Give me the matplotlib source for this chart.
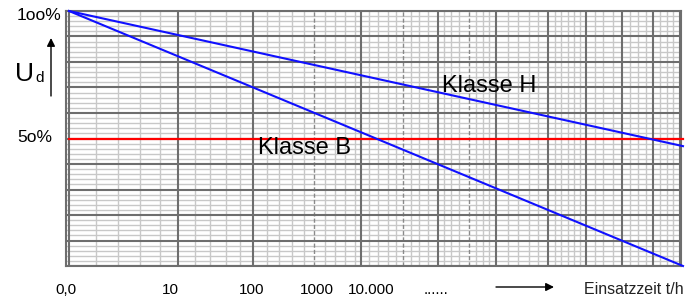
import matplotlib.pyplot as plt

plt.rcParams['font.family'] = ['Liberation Sans', 'DejaVu Sans']

# Data (x in units of the schematic time paper, 0 = left edge, 615 = right edge)
t_line = [0, 617]
u_klasse_b = [100, 0]
u_klasse_h = [100, 47]
u_limit = 50

tick_labels = ['0,0', '10', '100', '1000', '10.000', '......']
tick_pos = [-3, 102, 184, 249, 304, 369]

# graph paper grid
major_x = [0, 110, 185, 293, 371, 429, 481, 520, 556, 587, 614]
minor_x = [27, 49, 71, 91, 127, 142, 158, 172,
           199, 211, 224, 236, 257, 267, 277, 287,
           301, 311, 321, 329, 344, 352, 361,
           377, 384, 392, 409, 416, 422,
           441, 451, 462, 471,
           488, 494, 501, 507, 514,
           529, 537, 547, 564, 572, 580, 594, 601, 607]
dashed_x = [246, 336, 402]

fig = plt.figure(figsize=(6.96, 3.04), dpi=100)
ax = fig.add_axes([66 / 696, 1 - 266 / 304, 615 / 696, 255 / 304])
ax.set_xlim(0, 615)
ax.set_ylim(0, 100)

# minor grid
for y in range(0, 101, 2):
    if y % 10:
        ax.axhline(y, color='#c8c8c8', lw=1.0, zorder=1)
for x in minor_x:
    ax.axvline(x, color='#c8c8c8', lw=1.0, zorder=1)
for x in dashed_x:
    ax.axvline(x, color='#8a8a8a', lw=1.0, ls=(0, (3, 1.5)), zorder=2)
# major grid
for y in range(0, 101, 10):
    ax.axhline(y, color='#6e6e6e', lw=1.5, zorder=3)
for x in major_x:
    ax.axvline(x, color='#6e6e6e', lw=1.5, zorder=3)

for s in ax.spines.values():
    s.set_color('#6e6e6e')
    s.set_linewidth(1.5)

# curves
ax.plot([0, 617], [u_limit, u_limit], color='#ff0000', lw=1.6, clip_on=False, zorder=5)
ax.plot(t_line, u_klasse_h, color='#1010ff', lw=1.5, clip_on=False, zorder=6)
ax.plot(t_line, u_klasse_b, color='#1010ff', lw=1.5, clip_on=False, zorder=6)

ax.text(375, 70.5, 'Klasse H', fontsize=17, ha='left', va='center', zorder=7)
ax.text(190, 46.3, 'Klasse B', fontsize=17, ha='left', va='center', zorder=7)

ax.set_xticks(tick_pos)
ax.set_xticklabels(tick_labels, fontsize=11)
ax.tick_params(axis='x', length=0, pad=12)
ax.set_yticks([])

# y labels
fig.text(17 / 696, 1 - 15 / 304, '1oo%', fontsize=12.5, ha='left', va='center')
fig.text(17 / 696, 1 - 138 / 304, '5o%', fontsize=12.5, ha='left', va='center')
fig.text(15 / 696, 1 - 74 / 304, 'U', fontsize=19, ha='left', va='center')
fig.text(35 / 696, 1 - 78 / 304, 'd', fontsize=11, ha='left', va='center')
ax.annotate('', xy=(51, 304 - 38), xytext=(51, 304 - 96),
            xycoords='figure pixels', textcoords='figure pixels',
            arrowprops=dict(arrowstyle='-|>', color='black', lw=1.0,
                            mutation_scale=12, shrinkA=0, shrinkB=0),
            annotation_clip=False)

# x axis caption
ax.annotate('', xy=(554, 304 - 287), xytext=(496, 304 - 287),
            xycoords='figure pixels', textcoords='figure pixels',
            arrowprops=dict(arrowstyle='-|>', color='black', lw=1.0,
                            mutation_scale=12, shrinkA=0, shrinkB=0),
            annotation_clip=False)
fig.text(584 / 696, 1 - 289 / 304, 'Einsatzzeit t/h', fontsize=11.5, ha='left', va='center',
         color='#222222')

fig.savefig('out.png', dpi=100)
